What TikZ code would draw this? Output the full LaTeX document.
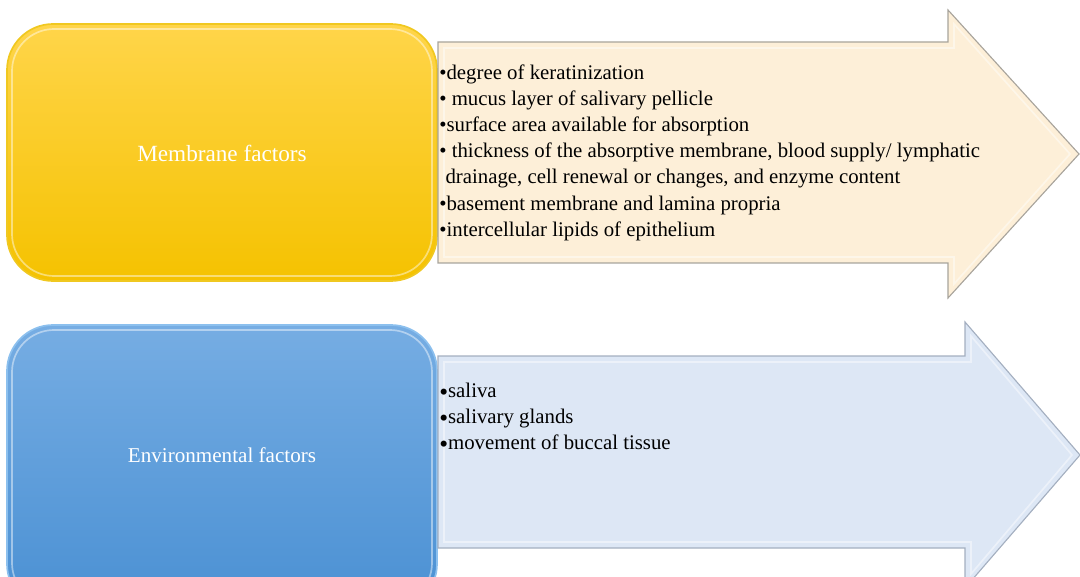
\documentclass[tikz,border=0pt]{standalone}
\usepackage{fontspec}
\setmainfont{Liberation Serif}
\usepackage{xcolor}

\definecolor{goldtop}{HTML}{FFD54A}
\definecolor{goldbot}{HTML}{F5C200}
\definecolor{goldedge}{HTML}{F0C820}
\definecolor{cream}{HTML}{FDEFD8}
\definecolor{creamedge}{HTML}{A8A49C}
\definecolor{bluetop}{HTML}{76ADE3}
\definecolor{bluebot}{HTML}{4A90D3}
\definecolor{blueedge}{HTML}{8CC0EE}
\definecolor{paleblue}{HTML}{DDE7F5}
\definecolor{paleedge}{HTML}{A4AFC0}

\tikzset{
  factorbox/.style={rounded corners=1.15cm, line width=1.2pt},
  bevel/.style={draw=white, draw opacity=0.45, line width=1.2pt},
  listarrow/.style={line width=0.8pt},
  factorlabel/.style={text=white, font=\fontsize{16.5}{19}\selectfont},
  factorlist/.style={anchor=north west, inner sep=0pt, align=left,
    font=\fontsize{14.8}{18.5}\selectfont}
}
\newcommand{\bigdot}{\raisebox{-0.3ex}{\fontsize{18}{18.5}\selectfont\textbullet}}

\begin{document}
\begin{tikzpicture}[x=0.025cm, y=-0.025cm]
    \clip (0,0) rectangle (1080,577);
    \useasboundingbox (0,0) rectangle (1080,577);

    % Membrane factors
    \draw[factorbox, draw=goldedge, top color=goldtop, bottom color=goldbot]
      (7,24) rectangle (437,281);
    \draw[bevel, rounded corners=1.05cm] (12,29) rectangle (432,276);
    \node[factorlabel] (membrane) at (222,153) {Membrane factors};

    \draw[listarrow, draw=creamedge, fill=cream]
      (438,42) -- (948,42) -- (948,10) -- (1079,154) -- (948,298)
      -- (948,263) -- (438,263) -- cycle;
    \draw[bevel] (444,48) -- (954,48) -- (954,24) -- (1070,154)
      -- (954,284) -- (954,257) -- (444,257) -- cycle;
    \node[factorlist] (membranelist) at (439,65) {%
      \textbullet degree of keratinization\\
      \textbullet\ mucus layer of salivary pellicle\\
      \textbullet surface area available for absorption\\
      \textbullet\ thickness of the absorptive membrane, blood supply/ lymphatic\\
      \hspace{0.3em}drainage, cell renewal or changes, and enzyme content\\
      \textbullet basement membrane and lamina propria\\
      \textbullet intercellular lipids of epithelium};

    % Environmental factors
    \draw[factorbox, draw=blueedge, top color=bluetop, bottom color=bluebot]
      (7,325) rectangle (437,610);
    \draw[bevel, rounded corners=1.05cm] (12,330) rectangle (432,605);
    \node[factorlabel, font=\fontsize{15}{18}\selectfont] (environment)
      at (222,455) {Environmental factors};

    \draw[listarrow, draw=paleedge, fill=paleblue]
      (438,356) -- (965,356) -- (965,322) -- (1080,455) -- (965,588)
      -- (965,548) -- (438,548) -- cycle;
    \draw[bevel] (444,362) -- (971,362) -- (971,336) -- (1072,455)
      -- (971,574) -- (971,542) -- (444,542) -- cycle;
    \node[factorlist] (environmentlist) at (439,383) {%
      \bigdot saliva\\
      \bigdot salivary glands\\
      \bigdot movement of buccal tissue};
\end{tikzpicture}
\end{document}
